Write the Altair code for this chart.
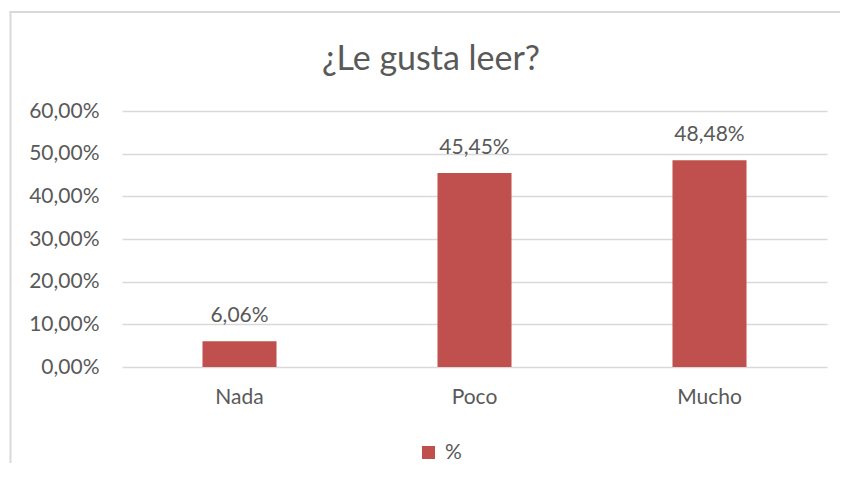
import altair as alt
import pandas as pd

categories = ["Nada", "Poco", "Mucho"]
values = [0.0606, 0.4545, 0.4848]
series_name = ["%", "%", "%"]
y_ticks = [0.0, 0.1, 0.2, 0.3, 0.4, 0.5, 0.6]
chart_title = "¿Le gusta leer?"

df = pd.DataFrame({"cat": categories, "val": values, "serie": series_name})

FONT = "Lato"
TXT = "#595959"
RED = "#c0504d"
GRID = "#d9d9d9"
FS = 21

W, H = 705, 256
PAD = {"left": 114, "top": 103, "right": 13, "bottom": 96}

base = alt.Chart(df).encode(
    x=alt.X(
        "cat:N",
        sort=categories,
        scale=alt.Scale(paddingInner=0.685, paddingOuter=0.3425),
        axis=alt.Axis(
            title=None, labelAngle=0, ticks=False, domain=False,
            labelPadding=19, labelFontSize=FS, labelColor=TXT, labelFont=FONT,
            grid=False,
        ),
    ),
)

bars = base.mark_bar(color=RED).encode(
    y=alt.Y(
        "val:Q",
        scale=alt.Scale(domain=[0, 0.6], nice=False),
        axis=alt.Axis(
            title=None, values=y_ticks, ticks=False, domain=False,
            labelPadding=23, labelFontSize=FS, labelColor=TXT, labelFont=FONT,
            labelExpr="replace(format(datum.value, '.2%'), '.', ',')",
            gridColor=GRID, gridWidth=1.5,
        ),
    ),
    color=alt.Color(
        "serie:N",
        scale=alt.Scale(range=[RED]),
        legend=alt.Legend(
            title=None, orient="none", legendX=296, legendY=331,
            symbolType="square", symbolSize=169, symbolStrokeWidth=0,
            labelFontSize=FS, labelColor=TXT, labelFont=FONT, labelOffset=6,
        ),
    ),
)

labels = base.transform_calculate(
    lbl="replace(format(datum.val, '.2%'), '.', ',')"
).mark_text(
    baseline="alphabetic", dy=-19, fontSize=FS, color=TXT, font=FONT
).encode(
    y="val:Q",
    text="lbl:N",
)

title_df = pd.DataFrame({"t": [chart_title]})
title = alt.Chart(title_df).mark_text(
    fontSize=34, font=FONT, color=TXT, baseline="alphabetic", align="center"
).encode(
    text="t:N", x=alt.value(309), y=alt.value(-41.5),
)

# light chart-area frame (left and top edges), kept inside the canvas
frame_left = alt.Chart(title_df).mark_rect(color=GRID, strokeWidth=0).encode(
    x=alt.value(-112.5), x2=alt.value(-110.5),
    y=alt.value(-100), y2=alt.value(H + PAD["bottom"]),
)
frame_top = alt.Chart(title_df).mark_rect(color=GRID, strokeWidth=0).encode(
    x=alt.value(-112.5), x2=alt.value(W + PAD["right"]),
    y=alt.value(-100), y2=alt.value(-98),
)

chart = alt.layer(frame_left, frame_top, bars, labels, title).properties(
    width=W, height=H,
    autosize=alt.AutoSizeParams(type="none"),
    padding=PAD,
).configure_view(stroke=None)

chart.save("out.html", embed_options={"renderer": "svg", "actions": False})
